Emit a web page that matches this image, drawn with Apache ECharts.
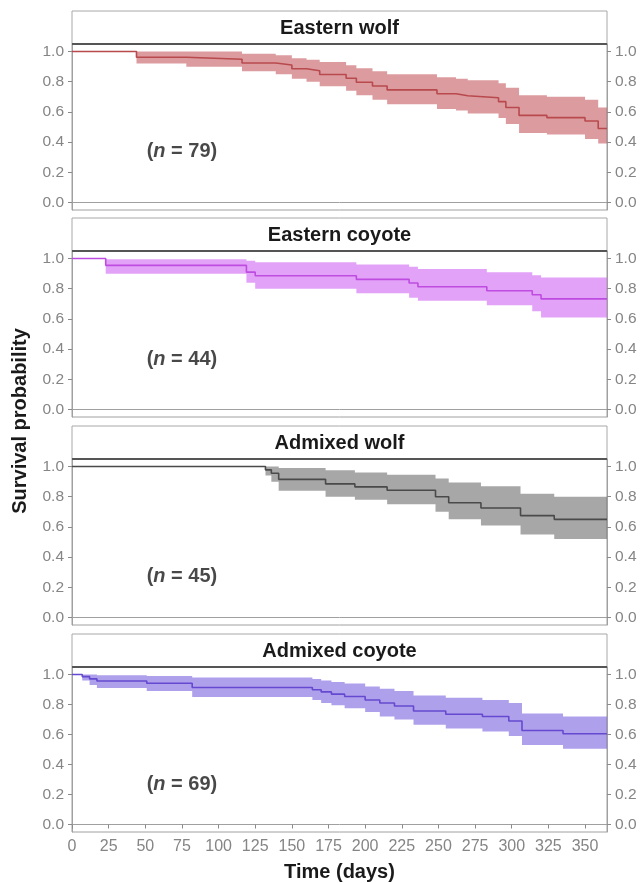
<!DOCTYPE html>
<html>
<head>
<meta charset="utf-8">
<script src="https://cdn.jsdelivr.net/npm/echarts@6/dist/echarts.min.js"></script>
<style>html,body{margin:0;padding:0;background:#fff;}#c{width:642px;height:883px;}</style>
</head>
<body>
<div id="c"></div>
<script>
// ---- data ----
const xTicks = [0, 25, 50, 75, 100, 125, 150, 175, 200, 225, 250, 275, 300, 325, 350];
const yTicks = [0, 0.2, 0.4, 0.6, 0.8, 1.0];
const xMax = 365;
const panelNames = ['Eastern wolf', 'Eastern coyote', 'Admixed wolf', 'Admixed coyote'];
const sampleSizes = [79, 44, 45, 69];
const labelDay = [75, 75, 75, 75];
const labelProb = [0.34, 0.33, 0.27, 0.27];

const ewTime  = [0, 44, 78, 116, 139, 150, 160, 169, 187, 194, 205, 215, 249, 262, 270, 291, 296, 305, 324, 350, 359];
const ewSurv  = [1, 0.962, 0.949, 0.924, 0.911, 0.886, 0.873, 0.848, 0.823, 0.797, 0.772, 0.746, 0.72, 0.707, 0.694, 0.668, 0.629, 0.577, 0.562, 0.54, 0.49];
const ewLower = [1, 0.92, 0.90, 0.87, 0.85, 0.82, 0.80, 0.77, 0.74, 0.71, 0.68, 0.65, 0.62, 0.61, 0.59, 0.56, 0.52, 0.46, 0.45, 0.42, 0.39];
const ewUpper = [1, 1, 1, 0.985, 0.975, 0.955, 0.945, 0.93, 0.91, 0.89, 0.87, 0.85, 0.83, 0.82, 0.81, 0.79, 0.76, 0.71, 0.70, 0.68, 0.63];

const ecTime  = [0, 23, 119, 125, 194, 230, 236, 283, 314, 320];
const ecSurv  = [1, 0.955, 0.91, 0.886, 0.862, 0.838, 0.813, 0.787, 0.76, 0.733];
const ecLower = [1, 0.90, 0.84, 0.80, 0.77, 0.74, 0.72, 0.69, 0.65, 0.61];
const ecUpper = [1, 0.995, 0.985, 0.975, 0.96, 0.945, 0.93, 0.91, 0.89, 0.875];

const awTime  = [0, 132, 136, 141, 173, 193, 215, 248, 257, 279, 306, 329];
const awSurv  = [1, 0.978, 0.956, 0.915, 0.885, 0.865, 0.843, 0.80, 0.76, 0.725, 0.675, 0.65];
const awLower = [1, 0.94, 0.90, 0.84, 0.80, 0.78, 0.75, 0.70, 0.65, 0.61, 0.55, 0.52];
const awUpper = [1, 1, 1, 0.99, 0.975, 0.96, 0.945, 0.92, 0.895, 0.87, 0.82, 0.80];

const acTime  = [0, 7, 12, 17, 51, 82, 164, 170, 177, 186, 200, 210, 220, 233, 255, 280, 298, 307, 335];
const acSurv  = [1, 0.986, 0.971, 0.957, 0.942, 0.913, 0.898, 0.884, 0.869, 0.853, 0.83, 0.81, 0.79, 0.757, 0.735, 0.72, 0.69, 0.627, 0.605];
const acLower = [1, 0.96, 0.93, 0.91, 0.89, 0.85, 0.83, 0.81, 0.795, 0.775, 0.75, 0.72, 0.70, 0.665, 0.64, 0.62, 0.59, 0.53, 0.505];
const acUpper = [1, 1, 1, 0.995, 0.99, 0.98, 0.97, 0.96, 0.95, 0.94, 0.92, 0.905, 0.89, 0.86, 0.845, 0.83, 0.81, 0.74, 0.72];

const panels = [
  {t: ewTime, s: ewSurv, lo: ewLower, hi: ewUpper},
  {t: ecTime, s: ecSurv, lo: ecLower, hi: ecUpper},
  {t: awTime, s: awSurv, lo: awLower, hi: awUpper},
  {t: acTime, s: acSurv, lo: acLower, hi: acUpper}
];

// ---- styles ----
const lineColors = ['#b8494d', '#bf4ce0', '#4a4a4a', '#6549d0'];
const bandColors = ['rgba(195,85,90,0.58)', 'rgba(208,105,242,0.62)', 'rgba(95,95,95,0.55)', 'rgba(118,92,220,0.58)'];
const tops = [44, 251, 459, 667];
const gridH = 166, gridL = 72, gridR = 35, stripH = 33;
const font = '"Liberation Sans", Arial, sans-serif';
const tickColor = '#858585';

const grids = [], xAxes = [], yAxes = [], series = [], graphics = [];
const fmt = v => Number(v).toFixed(1);

function withEnd(t, v) {
  return t.map((d, i) => [d, v[i]]).concat([[xMax, v[v.length - 1]]]);
}

function bandRenderer(p, color) {
  return function (params, api) {
    if (params.dataIndex !== 0) return null;
    const n = p.t.length;
    const up = [], low = [];
    for (let k = 0; k < n; k++) {
      const x0 = p.t[k], x1 = k + 1 < n ? p.t[k + 1] : xMax;
      up.push(api.coord([x0, p.hi[k]]), api.coord([x1, p.hi[k]]));
      low.push(api.coord([x0, p.lo[k]]), api.coord([x1, p.lo[k]]));
    }
    return {type: 'polygon', shape: {points: up.concat(low.reverse())}, style: {fill: color}};
  };
}

panels.forEach((p, i) => {
  const last = i === panels.length - 1;
  grids.push({left: gridL, right: gridR, top: tops[i], height: gridH, show: true,
    borderColor: '#a0a0a0', borderWidth: 1, backgroundColor: '#fff'});
  xAxes.push({type: 'value', gridIndex: i, min: 0, max: xMax,
    axisLine: {show: true, lineStyle: {color: '#a0a0a0'}},
    axisTick: {show: last, length: 4, customValues: xTicks, lineStyle: {color: '#8a8a8a'}},
    axisLabel: {show: last, customValues: xTicks, color: tickColor, fontSize: 16, fontFamily: font, margin: 7},
    splitLine: {show: false},
    name: last ? 'Time (days)' : '', nameLocation: 'middle', nameGap: 30,
    nameTextStyle: {fontSize: 20, fontWeight: 'bold', color: '#1a1a1a', fontFamily: font}
  });
  ['left', 'right'].forEach(pos => {
    yAxes.push({type: 'value', gridIndex: i, position: pos, min: -0.05, max: 1.05,
      axisLine: {show: true, lineStyle: {color: '#a0a0a0'}},
      axisTick: {show: true, length: 4, customValues: yTicks, lineStyle: {color: '#8a8a8a'}},
      axisLabel: {show: true, customValues: yTicks, formatter: fmt, color: tickColor, fontSize: 15.5, fontFamily: font, margin: 8},
      splitLine: {show: false}
    });
  });
  const yIdx = i * 2;
  series.push({type: 'custom', xAxisIndex: i, yAxisIndex: yIdx,
    data: p.t.map((d, k) => [d, p.lo[k], p.hi[k]]), encode: {x: 0, y: [1, 2]},
    renderItem: bandRenderer(p, bandColors[i]), silent: true, z: 1});
  series.push({type: 'line', xAxisIndex: i, yAxisIndex: yIdx, data: withEnd(p.t, p.s), step: 'end',
    symbol: 'none', lineStyle: {color: lineColors[i], width: 1.6}, silent: true, z: 3});
  series.push({type: 'scatter', xAxisIndex: i, yAxisIndex: yIdx, data: [[labelDay[i], labelProb[i]]],
    symbolSize: 0, silent: true, z: 4,
    label: {show: true, position: 'inside', formatter: '{p|(}{i|n}{p| = ' + sampleSizes[i] + ')}',
      rich: {p: {fontSize: 20, fontWeight: 'bold', color: '#1a1a1a', fontFamily: font},
             i: {fontSize: 20, fontWeight: 'bold', fontStyle: 'italic', color: '#1a1a1a', fontFamily: font}}}});

  // strip
  graphics.push({type: 'rect', shape: {x: gridL, y: tops[i] - stripH, width: 642 - gridL - gridR, height: stripH},
    style: {fill: '#fff', stroke: '#a8a8a8', lineWidth: 1}, z: 10});
  graphics.push({type: 'line', shape: {x1: gridL, y1: tops[i], x2: 642 - gridR, y2: tops[i]},
    style: {stroke: '#555', lineWidth: 2}, z: 11});
  graphics.push({type: 'text', x: gridL + (642 - gridL - gridR) / 2, y: tops[i] - stripH / 2 + 1,
    style: {text: panelNames[i], fill: '#1a1a1a', font: 'bold 20px ' + font, textAlign: 'center', textVerticalAlign: 'middle'}, z: 12});
});

graphics.push({type: 'text', x: 20, y: 421, rotation: Math.PI / 2,
  style: {text: 'Survival probability', fill: '#1a1a1a', font: 'bold 20px ' + font, textAlign: 'center', textVerticalAlign: 'middle'}, z: 12});

const chart = echarts.init(document.getElementById('c'), null, {renderer: 'canvas'});
chart.setOption({
  animation: false,
  backgroundColor: '#fff',
  grid: grids, xAxis: xAxes, yAxis: yAxes, series: series, graphic: graphics
});
</script>
</body>
</html>
